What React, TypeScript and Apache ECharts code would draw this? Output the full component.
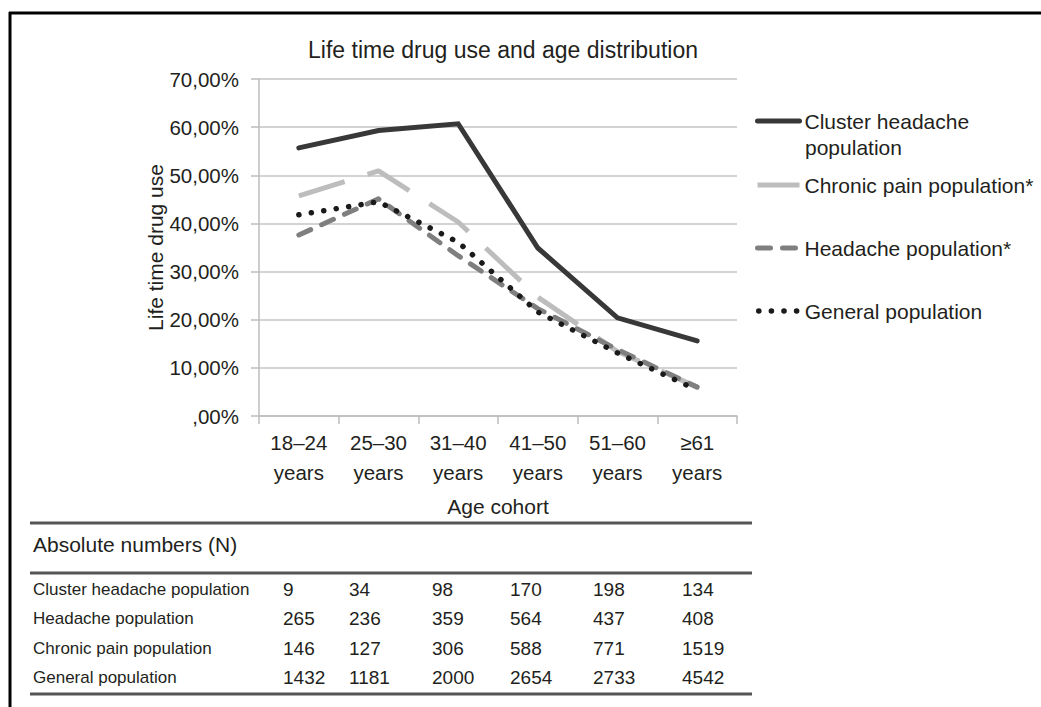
import React, { useEffect, useRef } from "react";
import * as echarts from "echarts";

const categories = ["18–24\nyears", "25–30\nyears", "31–40\nyears", "41–50\nyears", "51–60\nyears", "≥61\nyears"];
const seriesNames = [
  "Cluster headache population",
  "Chronic pain population*",
  "Headache population*",
  "General population",
];
const clusterHeadache = [55.7, 59.3, 60.7, 34.9, 20.4, 15.6];
const chronicPain = [45.7, 50.9, 40.3, 24.7, 13.4, 6.0];
const headachePop = [37.6, 45.1, 33.3, 22.3, 13.8, 6.0];
const generalPop = [41.8, 44.5, 36.1, 21.6, 13.1, 5.4];

const tableTitle = "Absolute numbers (N)";
const tableRowNames = [
  "Cluster headache population",
  "Headache population",
  "Chronic pain population",
  "General population",
];
const clusterN = [9, 34, 98, 170, 198, 134];
const headacheN = [265, 236, 359, 564, 437, 408];
const chronicN = [146, 127, 306, 588, 771, 1519];
const generalN = [1432, 1181, 2000, 2654, 2733, 4542];
const tableValues = [clusterN, headacheN, chronicN, generalN];

const FONT = "'Liberation Sans', Arial, Helvetica, sans-serif";
const TXT = "#231f20";

const styles: any = {
  cluster: { color: "#383838", width: 5, type: "solid", cap: "round", join: "miter" },
  chronic: { color: "#bdbdbd", width: 5, type: [48, 24], cap: "butt", join: "round" },
  headache: { color: "#7f7f7f", width: 5, type: [13, 12], cap: "round", join: "round" },
  general: { color: "#1a1a1a", width: 5.5, type: [0.1, 12.5], cap: "round", join: "round" },
};

export default function App() {
  const ref = useRef<HTMLDivElement>(null);
  useEffect(() => {
    document.body.style.margin = "0";
    const chart = echarts.init(ref.current!, null, { renderer: "svg" });

    const colX = [283, 349, 432, 510, 593, 682];
    const rowY = [589, 618, 648, 677];
    const graphics: any[] = [
      { type: "line", shape: { x1: 10, y1: 12, x2: 10, y2: 707 }, style: { stroke: "#000", lineWidth: 3 } },
      { type: "line", shape: { x1: 9, y1: 13, x2: 1041, y2: 13 }, style: { stroke: "#000", lineWidth: 3 } },
      { type: "line", shape: { x1: 30, y1: 523, x2: 752, y2: 523 }, style: { stroke: "#555", lineWidth: 3 } },
      { type: "line", shape: { x1: 30, y1: 573, x2: 752, y2: 573 }, style: { stroke: "#555", lineWidth: 3 } },
      { type: "line", shape: { x1: 30, y1: 694, x2: 752, y2: 694 }, style: { stroke: "#555", lineWidth: 3 } },
      {
        type: "text",
        x: 33,
        y: 544,
        style: { text: tableTitle, fontSize: 21, fontFamily: FONT, fill: TXT, verticalAlign: "middle" },
      },
      {
        type: "text",
        x: 805,
        y: 147,
        style: { text: "population", fontSize: 21, fontFamily: FONT, fill: TXT, verticalAlign: "middle" },
      },
    ];
    tableRowNames.forEach((name, i) => {
      graphics.push({
        type: "text",
        x: 33,
        y: rowY[i],
        style: { text: name, fontSize: 17, fontFamily: FONT, fill: TXT, verticalAlign: "middle" },
      });
      tableValues[i].forEach((v, j) => {
        graphics.push({
          type: "text",
          x: colX[j],
          y: rowY[i],
          style: { text: String(v), fontSize: 19, fontFamily: FONT, fill: TXT, verticalAlign: "middle" },
        });
      });
    });

    const legendBase = {
      orient: "vertical",
      left: 755,
      padding: 0,
      itemWidth: 42,
      itemHeight: 14,
      textStyle: { fontSize: 21, fontFamily: FONT, color: TXT, lineHeight: 24 },
      itemStyle: { color: "rgba(0,0,0,0)", borderColor: "rgba(0,0,0,0)", borderWidth: 0, opacity: 0 },
      selectedMode: false,
    };

    const option: any = {
      animation: false,
      backgroundColor: "#fff",
      textStyle: { fontFamily: FONT },
      title: {
        text: "Life time drug use and age distribution",
        left: 498,
        textAlign: "center",
        top: 33,
        textStyle: { fontSize: 23, fontWeight: "normal", color: TXT, fontFamily: FONT },
      },
      legend: [
        { ...legendBase, top: 109, data: [seriesNames[0]], formatter: () => "Cluster headache", lineStyle: styles.cluster },
        { ...legendBase, top: 173, data: [seriesNames[1]], lineStyle: { ...styles.chronic, type: "solid" } },
        { ...legendBase, top: 236, data: [seriesNames[2]], lineStyle: styles.headache },
        { ...legendBase, top: 299, data: [seriesNames[3]], lineStyle: { ...styles.general, dashOffset: -1 } },
      ],
      grid: { left: 259, right: 304, top: 79, bottom: 291, containLabel: false },
      xAxis: {
        type: "category",
        data: categories,
        boundaryGap: true,
        name: "Age cohort",
        nameLocation: "middle",
        nameGap: 80,
        nameTextStyle: { fontSize: 21, color: TXT, fontFamily: FONT },
        axisLine: { lineStyle: { color: "#bdbdbd", width: 1.5 } },
        axisTick: { show: true, length: 8, lineStyle: { color: "#bdbdbd", width: 1.5 } },
        axisLabel: { fontSize: 20.5, color: TXT, lineHeight: 30, margin: 11, fontFamily: FONT, interval: 0 },
      },
      yAxis: {
        type: "value",
        min: 0,
        max: 70,
        interval: 10,
        name: "Life time drug use",
        nameLocation: "middle",
        nameRotate: 90,
        nameGap: 86,
        nameTextStyle: { fontSize: 21, color: TXT, fontFamily: FONT },
        axisLine: { show: true, lineStyle: { color: "#bdbdbd", width: 1.5 } },
        axisTick: { show: true, length: 8, lineStyle: { color: "#bdbdbd", width: 1.5 } },
        splitLine: { lineStyle: { color: "#c4c4c4", width: 1.5 } },
        axisLabel: {
          fontSize: 20.5,
          color: TXT,
          margin: 20,
          fontFamily: FONT,
          formatter: (v: number) => (v === 0 ? ",00%" : `${v},00%`),
        },
      },
      series: [
        {
          name: seriesNames[1],
          type: "line",
          data: chronicPain,
          symbol: "none",
          lineStyle: styles.chronic,
          itemStyle: { color: styles.chronic.color },
        },
        {
          name: seriesNames[2],
          type: "line",
          data: headachePop,
          symbol: "none",
          lineStyle: styles.headache,
          itemStyle: { color: styles.headache.color },
        },
        {
          name: seriesNames[3],
          type: "line",
          data: generalPop,
          symbol: "none",
          lineStyle: styles.general,
          itemStyle: { color: styles.general.color },
        },
        {
          name: seriesNames[0],
          type: "line",
          data: clusterHeadache,
          symbol: "none",
          lineStyle: styles.cluster,
          itemStyle: { color: styles.cluster.color },
        },
      ],
      graphic: graphics,
    };
    chart.setOption(option);
    return () => chart.dispose();
  }, []);
  return <div ref={ref} style={{ width: 1041, height: 707 }} />;
}
